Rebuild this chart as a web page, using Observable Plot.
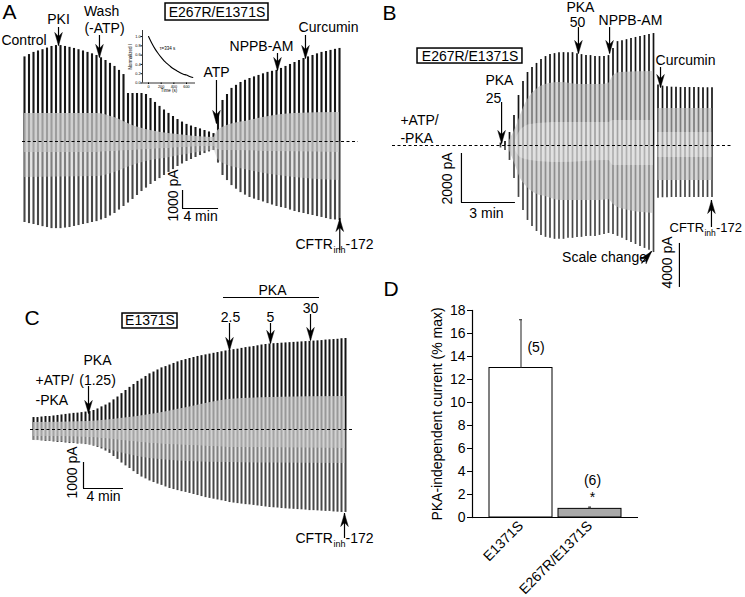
<!DOCTYPE html>
<html><head><meta charset="utf-8">
<script src="https://cdn.jsdelivr.net/npm/d3@7"></script>
<script src="https://cdn.jsdelivr.net/npm/@observablehq/plot@0.6"></script>
<style>
body{margin:0;background:#fff;}
#fig{position:relative;width:745px;height:597px;overflow:hidden;background:#fff;}
.panel{position:absolute;}
.panel svg{background:transparent;overflow:visible;}
</style></head><body><div id="fig"></div>
<script>
// ---------------- DATA ----------------
// Panel A: E267R/E1371S, sweep envelopes (pA), one sweep every 0.5 min
const aStart = 0, aStep = 0.5;
const aTop = [4700,4830,4950,5030,5100,5190,5280,5330,5330,5280,5230,5170,5100,5030,4950,4870,4780,4650,4500,4340,4170,3950,3720,3500,3280,3060,2840,2610,2390,2170,1950,1750,1560,1390,1220,1080,950,860,780,700,610,530,440,
  1450,2280,2610,2950,3120,3280,3400,3500,3590,3670,3760,3840,3900,3950,4060,4170,4280,4390,4500,4610,4700,4780,4870,4950,5000,5060,5120,5170];
const aBottom = [-4500,-4560,-4610,-4670,-4730,-4780,-4840,-4840,-4840,-4810,-4780,-4720,-4670,-4610,-4560,-4500,-4450,-4360,-4280,-4140,-4000,-3810,-3610,-3420,-3220,-3000,-2780,-2590,-2390,-2220,-2060,-1890,-1720,-1560,-1390,-1250,-1110,-1000,-890,-780,-670,-580,-500,
  -1200,-1890,-2170,-2450,-2650,-2840,-2980,-3110,-3200,-3280,-3360,-3450,-3530,-3610,-3670,-3720,-3810,-3890,-3950,-4000,-4060,-4110,-4170,-4220,-4280,-4340,-4360,-4390];
const aBandT    = [0,8,10,12,14,16,18,21,21.5,22,25,30,35];
const aBandHi   = [1560,1560,1330,890,610,440,330,220,610,780,1170,1560,1610];
const aBandLo   = [-610,-610,-560,-500,-440,-390,-330,-280,-450,-500,-530,-580,-610];
const aBandLow2 = [-2000,-1950,-1720,-1330,-1060,-900,-720,-500,-1000,-1200,-1610,-2000,-2170];
// Inset: normalized current decay
const insetTime = [0,50,100,150,200,250,300,350,400,450,500,550,600,650,700];
const insetNorm = [1.00,0.86,0.74,0.64,0.55,0.47,0.41,0.35,0.30,0.26,0.22,0.19,0.17,0.14,0.12];
const insetYTicks = [0,0.2,0.4,0.6,0.8,1.0];
const insetXTicks = [0,200,400,600];

// Panel B: E267R/E1371S, one sweep every 0.25 min
const bStart = 6.0, bStep = 0.25;
const bTop = [100,160,530,1220,2040,2610,2980,3180,3350,3510,3630,3710,3750,3790,3790,3790,3790,3750,3710,3670,3670,3630,3630,3630,3670,3960,4240,4280,4320,4370,4410,4450,4490,4530,4570];
const bBottom = [-100,-200,-610,-1350,-2120,-2650,-3060,-3310,-3510,-3670,-3750,-3790,-3830,-3830,-3830,-3790,-3790,-3750,-3750,-3710,-3710,-3710,-3670,-3630,-3590,-3630,-3710,-3790,-3880,-3960,-4040,-4120,-4200,-4280,-4370];
const bBandT  = [6.5,6.83,7.11,7.39,7.67,8.06,8.5,9.33,10.44,11.56,12.0,12.28,12.67,14.5];
const bBandHi = [204,694,1224,1714,2040,2326,2489,2570,2489,2489,2530,2856,2978,3019];
const bBandLo = [-204,-816,-1346,-1632,-1836,-2000,-2081,-2244,-2244,-2244,-2203,-2407,-2570,-2774];
const bCoreT  = [6.83,7.11,7.67,9.33,12.0,12.28,14.5];
const bCoreHi = [204,612,857,938,938,1020,1020];
const bCoreLo = [-204,-490,-612,-694,-612,-816,-816];
// after the scale change (curcumin), values in pA of the 4000 pA bar
const bStart2 = 14.75;
const bTop2 = [5500,5400,5350,5300,5300,5270,5270,5270,5270,5270,5250,5250,5250];
const bBottom2 = [-4800,-4750,-4750,-4730,-4730,-4730,-4730,-4730,-4730,-4730,-4730,-4730,-4730];
const bBand2T = [14.75,17.75], bBand2Hi = [3360,3360], bBand2Lo = [-3180,-3180], bCore2Hi = [1180,1180], bCore2Lo = [-1090,-1090];
const bGain2 = (44 / 4000) / (49 / 2000); // display gain after "Scale change"

// Panel C: E1371S, one sweep every 0.4 min
const cStart = 0, cStep = 0.4;
const cTop = [460,460,480,500,500,520,540,560,580,600,620,630,650,670,690,730,790,870,940,1020,1140,1250,1380,1500,1620,1730,1850,1940,2040,2140,2210,2290,2370,2420,2480,2540,2600,2650,2690,2730,2770,2810,2840,2870,2900,2930,2960,2990,3020,3040,3070,3090,3120,3150,3170,3190,3220,3250,3270,3290,3300,3310,3320,3330,3340,3350,3360,3370,3380,3390,3400,3410,3420,3440,3450,3460,3470,3490,3500];
const cBottom = [-420,-420,-440,-460,-460,-480,-500,-500,-520,-540,-540,-560,-560,-580,-600,-640,-690,-750,-830,-920,-1040,-1150,-1290,-1400,-1500,-1620,-1730,-1830,-1900,-1980,-2040,-2100,-2150,-2210,-2270,-2310,-2350,-2390,-2420,-2460,-2500,-2540,-2580,-2620,-2650,-2680,-2710,-2740,-2770,-2810,-2830,-2850,-2870,-2890,-2900,-2920,-2940,-2960,-2980,-3000,-3010,-3020,-3040,-3050,-3060,-3070,-3080,-3090,-3100,-3120,-3120,-3130,-3140,-3150,-3150,-3170,-3180,-3190,-3190];
const cBandT    = [0,5.5,8.7,11.7,15.4,19.5,23.7,31.2];
const cBandHi   = [270,310,420,580,850,1150,1230,1270];
const cBandLo   = [-270,-310,-420,-540,-620,-690,-710,-730];
const cBandLow2 = [-420,-580,-890,-1120,-1230,-1270,-1290,-1310];

// Panel D: PKA-independent current (% max)
const dCats = ["E1371S", "E267R/E1371S"];
const dMeans = [13.0, 0.75];
const dSEM = [4.2, 0.15];
const dN = [5, 6];
const dSig = ["", "*"];
const dYTicks = [0,2,4,6,8,10,12,14,16,18];

// ---------------- HELPERS ----------------
const fig = document.getElementById("fig");
const FONT = "'Liberation Sans', Arial, Helvetica, sans-serif";
const baseStyle = {fontFamily: FONT, fontSize: "14px", background: "transparent", overflow: "visible", color: "black"};
function place(plot, left, top) {
  const d = document.createElement("div");
  d.className = "panel";
  d.style.left = left + "px"; d.style.top = top + "px";
  d.appendChild(plot); fig.appendChild(d);
}
function texts(list) {
  return list.map(l => Plot.text([l], {x: "t", y: "I", text: "text", fontSize: l.size || 14, textAnchor: l.anchor || "middle", lineAnchor: "middle", rotate: l.rotate || 0, fill: "black"}));
}
// filled, notched arrowhead polygons, sized in pixels and converted to each panel's data units
function headPolys(list, kx, ky, L = 13, r = 3.8) {
  const rows = [];
  list.forEach((a, id) => {
    const ang = (a.angle !== undefined ? a.angle : (a.to < a.from ? 180 : 0)) * Math.PI / 180;
    const ux = Math.sin(ang), uy = -Math.cos(ang), px = Math.cos(ang), py = Math.sin(ang);
    const tipT = a.tipT !== undefined ? a.tipT : a.t;
    const tipI = a.to;
    const pts = [[0, 0], [-L * ux + r * px, -L * uy + r * py], [-0.7 * L * ux, -0.7 * L * uy], [-L * ux - r * px, -L * uy - r * py], [0, 0]];
    pts.forEach(([dx, dy], k) => rows.push({id, k, t: tipT + dx / kx, I: tipI - dy / ky}));
  });
  return rows;
}
function arrows(list, kx, ky) {
  return [
    Plot.ruleX(list, {x: "t", y1: "from", y2: "to", stroke: "black", strokeWidth: 1.2}),
    Plot.line(headPolys(list, kx, ky), {x: "t", y: "I", z: "id", fill: "black", stroke: "black", strokeWidth: 0.5})
  ];
}
function scaleBar(sb) {
  const m = [Plot.ruleX([sb], {x: "t", y1: "I", y2: d => d.I + d.dI, stroke: "black", strokeWidth: 1.2})];
  if (sb.dt) m.push(Plot.ruleY([sb], {y: "I", x1: "t", x2: d => d.t + d.dt, stroke: "black", strokeWidth: 1.2}));
  return m;
}
function sweeps(data, w) {
  return [
    Plot.ruleX(data, {x: "t", y1: 0, y2: "top", stroke: "#151515", strokeWidth: w}),
    Plot.ruleX(data, {x: "t", y1: 0, y2: "bottom", stroke: "#474747", strokeWidth: w})
  ];
}
function box(b) {
  return Plot.rect([b], {x1: "t1", x2: "t2", y1: "I1", y2: "I2", fill: "none", stroke: "black", strokeWidth: 1.5});
}

// ---------------- PANEL A ----------------
const kxA = 9, kyA = 0.018;
const aSweeps = aTop.map((v, i) => ({t: aStart + i * aStep, top: v, bottom: aBottom[i]}));
const aBands = aBandT.map((t, i) => ({t, hi: aBandHi[i], lo: aBandLo[i], low2: aBandLow2[i]}));
const labelsA = [
  {text: "A", t: -2.44, I: 7170, size: 21, anchor: "start"},
  {text: "Control", t: -2.56, I: 5611, anchor: "start"},
  {text: "PKI", t: 3.78, I: 6778},
  {text: "Wash", t: 8.56, I: 7222},
  {text: "(-ATP)", t: 8.89, I: 6278},
  {text: "E267R/E1371S", t: 21.39, I: 7167},
  {text: "ATP", t: 21.33, I: 3833},
  {text: "NPPB-AM", t: 26.33, I: 5278},
  {text: "Curcumin", t: 33.78, I: 6333},
  {text: "CFTR", t: 30.11, I: -5722, anchor: "start"},
  {text: "inh", t: 34.33, I: -6056, anchor: "start", size: 9},
  {text: "-172", t: 35.67, I: -5722, anchor: "start"},
  {text: "1000 pA", t: 16.56, I: -3000, rotate: -90},
  {text: "4 min", t: 19.56, I: -4167}
];
const arrowsA = [
  {t: 3.78, from: 6333, to: 5333}, {t: 8.33, from: 5889, to: 4667}, {t: 21.33, from: 3389, to: 1000},
  {t: 28.11, from: 4889, to: 3944}, {t: 31.22, from: 5889, to: 4611}, {t: 35.03, from: -6056, to: -4278}
];
place(Plot.plot({
  width: 380, height: 280, marginLeft: 24, marginRight: 41, marginTop: 51, marginBottom: 49,
  x: {domain: [0, 35], axis: null}, y: {domain: [-5000, 5000], axis: null},
  style: baseStyle,
  marks: [
    ...sweeps(aSweeps, 2.1),
    Plot.areaY(aBands, {x: "t", y1: "lo", y2: "hi", fill: "#c4c4c4", fillOpacity: 0.78, curve: "monotone-x"}),
    Plot.areaY(aBands, {x: "t", y1: "low2", y2: "lo", fill: "#c4c4c4", fillOpacity: 0.45, curve: "monotone-x"}),
    Plot.ruleY([0], {x1: -0.22, x2: 37.1, stroke: "black", strokeWidth: 1, strokeDasharray: "3,2.5"}),
    box({t1: 15.67, t2: 27.11, I1: 7667, I2: 6722}),
    ...scaleBar({t: 17.56, I: -3722, dt: 4, dI: 1000}),
    ...arrows(arrowsA, kxA, kyA),
    ...texts(labelsA)
  ]
}), 0, 0);

// Inset
const insetData = insetTime.map((t, i) => ({t, v: insetNorm[i]}));
place(Plot.plot({
  width: 75, height: 65, marginLeft: 17, marginRight: 5, marginTop: 2, marginBottom: 10.5,
  x: {domain: [-95, 742], axis: null}, y: {domain: [0, 1.13], axis: null},
  style: {...baseStyle, fontSize: "4px", background: "white"},
  marks: [
    Plot.ruleX([-95], {strokeWidth: 0.8}),
    Plot.ruleY([0], {strokeWidth: 0.8}),
    Plot.axisY({ticks: insetYTicks, tickFormat: d => d.toFixed(1), tickSize: 1.5, tickPadding: 0.5, fontSize: 3.8, label: null}),
    Plot.axisX({ticks: insetXTicks, tickSize: 1.5, tickPadding: 0.5, fontSize: 3.8, label: null}),
    Plot.line(insetData, {x: "t", y: "v", strokeWidth: 1.1, curve: "monotone-x"}),
    Plot.text(["Normalized I"], {frameAnchor: "left", rotate: -90, dx: -12, fontSize: 4.5, textAnchor: "middle"}),
    Plot.text(["Time (s)"], {frameAnchor: "bottom", dy: 8.5, fontSize: 4.5, textAnchor: "middle"}),
    Plot.text(["\u03C4=334 s"], {x: 300, y: 0.74, fontSize: 4.5})
  ]
}), 125, 28);

// ---------------- PANEL B ----------------
const kxB = 18, kyB = 0.0245;
const bSweeps = bTop.map((v, i) => ({t: bStart + i * bStep, top: v, bottom: bBottom[i]}));
const bSweeps2 = bTop2.map((v, i) => ({t: bStart2 + i * bStep, top: v * bGain2, bottom: bBottom2[i] * bGain2}));
const bBands = bBandT.map((t, i) => ({t, hi: bBandHi[i], lo: bBandLo[i]}));
const bCores = bCoreT.map((t, i) => ({t, hi: bCoreHi[i], lo: bCoreLo[i]}));
const bBands2 = bBand2T.map((t, i) => ({t, hi: bBand2Hi[i] * bGain2, lo: bBand2Lo[i] * bGain2, chi: bCore2Hi[i] * bGain2, clo: bCore2Lo[i] * bGain2}));
const labelsB = [
  {text: "B", t: -0.56, I: 5400, size: 21, anchor: "start"},
  {text: "E267R/E1371S", t: 4.31, I: 3650},
  {text: "PKA", t: 5.94, I: 2652},
  {text: "25", t: 5.61, I: 1918},
  {text: "+ATP/", t: 0.44, I: 1020, anchor: "start"},
  {text: "-PKA", t: 0.44, I: 286, anchor: "start"},
  {text: "PKA", t: 10.44, I: 5630},
  {text: "50", t: 10.28, I: 5020},
  {text: "NPPB-AM", t: 13.22, I: 5100},
  {text: "Curcumin", t: 16.28, I: 3468},
  {text: "2000 pA", t: 3.06, I: -1346, rotate: -90},
  {text: "3 min", t: 5.22, I: -2774},
  {text: "CFTR", t: 15.39, I: -3346, anchor: "start", size: 13},
  {text: "inh", t: 17.33, I: -3590, anchor: "start", size: 8.5},
  {text: "-172", t: 17.97, I: -3346, anchor: "start", size: 13},
  {text: "Scale change", t: 11.78, I: -4570},
  {text: "4000 pA", t: 15.28, I: -4774, rotate: -90}
];
const arrowsB = [
  {t: 6.06, from: 1754, to: 82}, {t: 10.33, from: 4814, to: 3754}, {t: 12.06, from: 4814, to: 3754},
  {t: 14.89, from: 3182, to: 2366}, {t: 17.72, from: -3346, to: -2244}
];
const scaleChangeArrow = {t1: 13.83, I1: -4814, t2: 14.39, I2: -4325, angle: 40};
place(Plot.plot({
  width: 365, height: 300, marginLeft: 12, marginRight: 29, marginTop: 47, marginBottom: 57,
  x: {domain: [0, 18], axis: null}, y: {domain: [-4000, 4000], axis: null},
  style: baseStyle,
  marks: [
    ...sweeps(bSweeps, 1.7),
    ...sweeps(bSweeps2, 1.7),
    Plot.areaY(bBands, {x: "t", y1: "lo", y2: "hi", fill: "#bcbcbc", fillOpacity: 0.62, curve: "monotone-x"}),
    Plot.areaY(bCores, {x: "t", y1: "lo", y2: "hi", fill: "#ffffff", fillOpacity: 0.3, curve: "monotone-x"}),
    Plot.areaY(bBands2, {x: "t", y1: "lo", y2: "hi", fill: "#bcbcbc", fillOpacity: 0.62}),
    Plot.areaY(bBands2, {x: "t", y1: "clo", y2: "chi", fill: "#ffffff", fillOpacity: 0.3}),
    Plot.ruleY([0], {x1: 0, x2: 18.9, stroke: "black", strokeWidth: 1, strokeDasharray: "3,2.5"}),
    box({t1: 1.39, t2: 7.22, I1: 3958, I2: 3346}),
    ...scaleBar({t: 3.83, I: -2326, dt: 3, dI: 2000}),
    ...scaleBar({t: 15.94, I: -3998, dt: 0, dI: -4000 * bGain2}),
    ...arrows(arrowsB, kxB, kyB),
    Plot.link([scaleChangeArrow], {x1: "t1", y1: "I1", x2: "t2", y2: "I2", stroke: "black", strokeWidth: 1.2}),
    Plot.line(headPolys([{tipT: scaleChangeArrow.t2, to: scaleChangeArrow.I2, angle: scaleChangeArrow.angle}], kxB, kyB),
      {x: "t", y: "I", z: "id", fill: "black", stroke: "black", strokeWidth: 0.5}),
    ...texts(labelsB)
  ]
}), 380, 0);

// ---------------- PANEL C ----------------
const kxC = 10, kyC = 0.026;
const cSweeps = cTop.map((v, i) => ({t: cStart + i * cStep, top: v, bottom: cBottom[i]}));
const cBands = cBandT.map((t, i) => ({t, hi: cBandHi[i], lo: cBandLo[i], low2: cBandLow2[i]}));
const labelsC = [
  {text: "C", t: -0.9, I: 4269, size: 21, anchor: "start"},
  {text: "E1371S", t: 11.65, I: 4173},
  {text: "PKA", t: 23.9, I: 5346},
  {text: "2.5", t: 19.7, I: 4308},
  {text: "5", t: 23.7, I: 4308},
  {text: "30", t: 27.7, I: 4654},
  {text: "PKA", t: 6.4, I: 2654},
  {text: "(1.25)", t: 6.4, I: 1885},
  {text: "+ATP/", t: 0.2, I: 1885, anchor: "start"},
  {text: "-PKA", t: 0.2, I: 1115, anchor: "start"},
  {text: "1000 pA", t: 3.9, I: -1654, rotate: -90},
  {text: "4 min", t: 7.0, I: -2577},
  {text: "CFTR", t: 26.2, I: -4192, anchor: "start"},
  {text: "inh", t: 30.0, I: -4423, anchor: "start", size: 9},
  {text: "-172", t: 31.2, I: -4192, anchor: "start"}
];
const arrowsC = [
  {t: 19.6, from: 4077, to: 3038}, {t: 23.7, from: 4077, to: 3308}, {t: 27.7, from: 4423, to: 3423},
  {t: 5.5, from: 1654, to: 615}, {t: 31.1, from: -4192, to: -3231}
];
place(Plot.plot({
  width: 380, height: 317, marginLeft: 33, marginRight: 47, marginTop: 71, marginBottom: 90,
  x: {domain: [0, 30], axis: null}, y: {domain: [-3000, 3000], axis: null},
  style: baseStyle,
  marks: [
    ...sweeps(cSweeps, 2.0),
    Plot.areaY(cBands, {x: "t", y1: "lo", y2: "hi", fill: "#c4c4c4", fillOpacity: 0.75, curve: "monotone-x"}),
    Plot.areaY(cBands, {x: "t", y1: "low2", y2: "lo", fill: "#c4c4c4", fillOpacity: 0.45, curve: "monotone-x"}),
    Plot.ruleY([0], {x1: -0.3, x2: 32, stroke: "black", strokeWidth: 1, strokeDasharray: "3,2.5"}),
    box({t1: 8.9, t2: 14.4, I1: 4461, I2: 3885}),
    Plot.ruleY([5077], {x1: 19, x2: 28.6, stroke: "black", strokeWidth: 1.2}),
    ...scaleBar({t: 5.0, I: -2269, dt: 4, dI: 1000}),
    ...arrows(arrowsC, kxC, kyC),
    ...texts(labelsC)
  ]
}), 0, 280);

// ---------------- PANEL D ----------------
const dData = dCats.map((c, i) => ({cat: c, mean: dMeans[i], sem: dSEM[i], n: dN[i], sig: dSig[i]}));
const dNotes = [
  {cat: dCats[0], text: `(${dN[0]})`, y: 14.8, dx: 15},
  {cat: dCats[1], text: `(${dN[1]})`, y: 3.2, dx: 2.5},
  {cat: dCats[1], text: dSig[1], y: 1.75, dx: 2.5}
];
place(Plot.plot({
  width: 365, height: 317, marginLeft: 92, marginRight: 107, marginTop: 30, marginBottom: 80,
  x: {domain: dCats, paddingInner: 0.086, paddingOuter: 0.23, axis: null},
  y: {domain: [0, 18], axis: null},
  style: baseStyle,
  marks: [
    Plot.barY(dData, {x: "cat", y: "mean", fill: d => d.cat === "E1371S" ? "#ffffff" : "#a8a8a8", stroke: "black", strokeWidth: 1}),
    Plot.ruleX(dData, {x: "cat", y1: "mean", y2: d => d.mean + d.sem, stroke: "#444", strokeWidth: 1.2}),
    Plot.tickY(dData, {x: "cat", y: d => d.mean + d.sem, insetLeft: 30, insetRight: 30, stroke: "#444", strokeWidth: 1.2}),
    Plot.ruleY([0], {stroke: "black", strokeWidth: 1.2}),
    Plot.frame({anchor: "left", stroke: "black", strokeWidth: 1.2}),
    Plot.axisY({ticks: dYTicks, tickSize: 5, tickPadding: 2, fontSize: 14, label: null}),
    Plot.axisX({tickRotate: -45, tickSize: 0, tickPadding: 6, fontSize: 14, label: null}),
    ...dNotes.map(n => Plot.text([n], {x: "cat", y: "y", text: "text", dx: n.dx, fontSize: 14, lineAnchor: "middle"})),
    Plot.text(["PKA-independent current (% max)"], {frameAnchor: "left", dx: -35, rotate: -90, fontSize: 14, textAnchor: "middle"}),
    Plot.text(["D"], {frameAnchor: "top-left", dx: -89, dy: -21, fontSize: 21, textAnchor: "start", lineAnchor: "middle"})
  ]
}), 380, 280);
</script></body></html>
